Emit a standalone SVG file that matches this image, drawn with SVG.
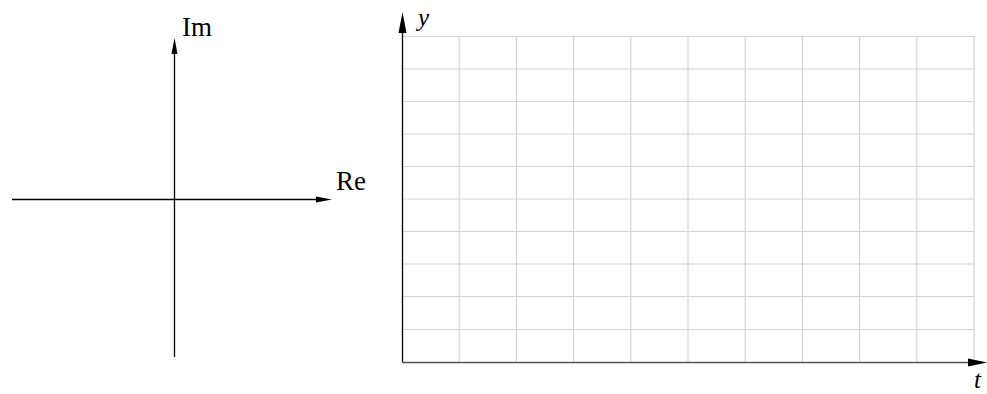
<svg xmlns="http://www.w3.org/2000/svg" width="987" height="394" viewBox="0 0 987 394">
<style>
.ax{stroke:#000;stroke-width:1.3;fill:none}
.grid{stroke:#d4d4d4;stroke-width:1.2;fill:none}
.head{fill:#000;stroke:none}
.lbl{font-family:"Liberation Serif","Times New Roman",serif;font-size:27px;fill:#000}
.it{font-family:"Liberation Serif","Times New Roman",serif;font-size:25px;font-style:italic;fill:#000}
</style>
<rect width="987" height="394" fill="#fff"/>
<g id="complex-plane">
<line class="ax" x1="12" y1="199.5" x2="318" y2="199.5"/>
<polygon class="head" points="332,199.5 316,196.5 316,202.5"/>
<line class="ax" x1="174.5" y1="357" x2="174.5" y2="52"/>
<polygon class="head" points="174.5,38 171.5,54 177.5,54"/>
<text class="lbl" x="182" y="36">Im</text>
<text class="lbl" x="336" y="190">Re</text>
</g>
<g id="grid">
<path class="grid" d="M459.2,36V362M516.4,36V362M573.6,36V362M630.8,36V362M688,36V362M745.2,36V362M802.4,36V362M859.6,36V362M916.8,36V362M974,36V362"/>
<path class="grid" d="M402,36.5H974M402,69H974M402,101.5H974M402,134H974M402,166.5H974M402,199H974M402,231.5H974M402,264H974M402,296.5H974M402,329.5H974"/>
</g>
<g id="time-axes">
<line class="ax" x1="402.5" y1="362" x2="402.5" y2="30"/>
<polygon class="head" points="402.5,12 398.5,33 406.5,33"/>
<line x1="402" y1="362.5" x2="970" y2="362.5" stroke="#555" stroke-width="1.6"/>
<polygon class="head" points="987,362.5 968,358.5 968,366.5"/>
<text class="it" x="418" y="26">y</text>
<text class="it" x="974" y="388">t</text>
</g>
</svg>
